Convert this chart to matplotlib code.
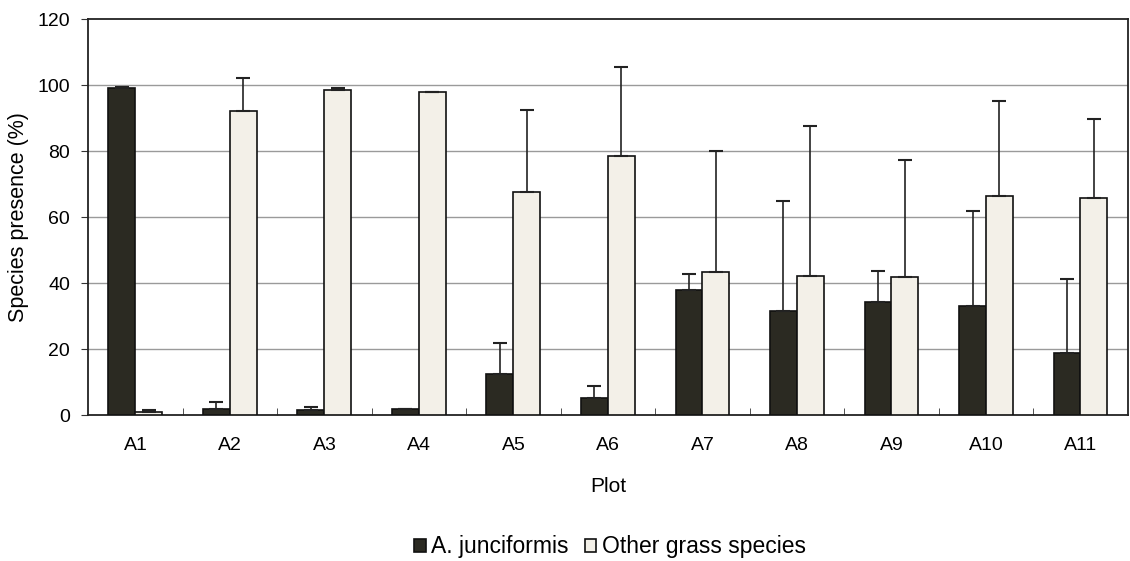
import matplotlib
matplotlib.use("Agg")
import matplotlib.pyplot as plt
import numpy as np

plots = ["A1", "A2", "A3", "A4", "A5", "A6", "A7", "A8", "A9", "A10", "A11"]
junciformis = [99, 2, 1.5, 2, 12.5, 5.3, 38, 31.6, 34.3, 33, 18.7]
junciformis_upper = [99.5, 4, 2.5, 2, 22, 8.7, 42.7, 64.8, 43.6, 62, 41.3]
other = [1, 92, 98.5, 97.8, 67.5, 78.5, 43.3, 42.1, 41.8, 66.4, 65.7]
other_upper = [1.5, 102, 99, 97.8, 92.5, 105.5, 80, 87.5, 77.2, 95.1, 89.8]

plt.rcParams['font.family'] = ['Liberation Sans', 'DejaVu Sans']

fig = plt.figure(figsize=(11.3, 5.61), dpi=100)
ax = fig.add_axes([0.078, 0.26, 0.92, 0.706])

x = np.arange(len(plots))
w = 0.285
j = np.array(junciformis); ju = np.array(junciformis_upper)
o = np.array(other); ou = np.array(other_upper)

ax.bar(x - w/2, j, w, color='#2b2a22', edgecolor='#111111', linewidth=1.2,
       label='A. junciformis', zorder=3)
ax.bar(x + w/2, o, w, color='#f3f0e8', edgecolor='#111111', linewidth=1.2,
       label='Other grass species', zorder=3)
ax.errorbar(x - w/2, j, yerr=[np.zeros_like(j), ju - j], fmt='none',
            ecolor='#222222', elinewidth=1.2, capsize=5, capthick=1.5, zorder=4)
ax.errorbar(x + w/2, o, yerr=[np.zeros_like(o), ou - o], fmt='none',
            ecolor='#222222', elinewidth=1.2, capsize=5, capthick=1.5, zorder=4)

ax.set_xlim(-0.5, len(plots) - 0.5)
ax.set_ylim(0, 120)
ax.set_yticks(range(0, 121, 20))
ax.set_xticks(x)
ax.set_xticklabels(plots)
ax.set_xticks(np.arange(0.5, len(plots) - 0.5, 1), minor=True)
ax.tick_params(axis='x', which='major', length=0, labelsize=14, pad=16)
ax.tick_params(axis='x', which='minor', length=5, direction='in', color='#333333')
ax.tick_params(axis='y', labelsize=14, length=5, direction='out', color='#333333', pad=8)

for yv in range(20, 120, 20):
    ax.axhline(yv, color='#9a9a9a', linewidth=1.0, zorder=1)

for s in ax.spines.values():
    s.set_color('#222222')
    s.set_linewidth(1.3)

ax.set_ylabel('Species presence (%)', fontsize=15.5, labelpad=6)
ax.set_xlabel('Plot', fontsize=15, labelpad=16)

fig.legend(loc='center', bbox_to_anchor=(0.54, 0.025), ncol=2, frameon=False,
           fontsize=16.5, handlelength=0.5, handleheight=0.5, handletextpad=0.25,
           columnspacing=0.7)

fig.savefig('out.png', dpi=100)
